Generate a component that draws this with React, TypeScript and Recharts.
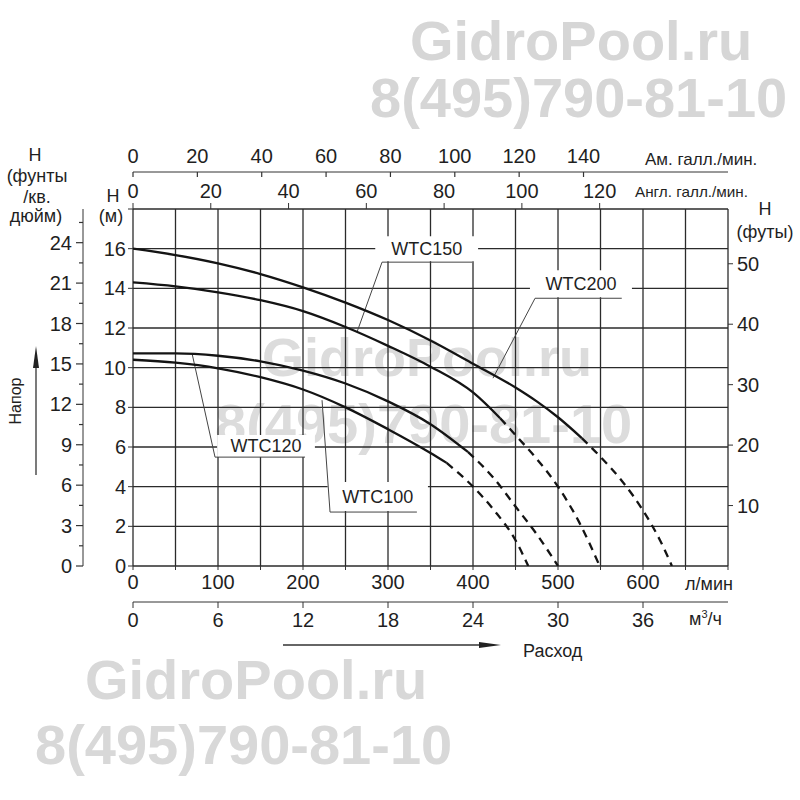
import {
  CartesianGrid,
  Line,
  LineChart,
  ReferenceArea,
  ReferenceLine,
  XAxis,
  YAxis,
} from "recharts";

// flow (l/min) and head (m); solid = working range, dashed = tail
const wtc200SolidQ = [0, 50, 100, 150, 200, 250, 300, 350, 400, 450, 475, 500, 528];
const wtc200SolidH = [16.0, 15.68, 15.26, 14.72, 14.05, 13.28, 12.4, 11.37, 10.2, 9.0, 8.3, 7.5, 6.45];
const wtc200DashQ = [528, 550, 575, 600, 620, 634];
const wtc200DashH = [6.45, 5.5, 4.3, 2.8, 1.3, 0];

const wtc150SolidQ = [0, 50, 100, 150, 200, 250, 300, 350, 400, 432];
const wtc150SolidH = [14.3, 14.1, 13.8, 13.4, 12.85, 12.05, 11.1, 10.05, 8.75, 7.45];
const wtc150DashQ = [432, 450, 475, 500, 525, 549];
const wtc150DashH = [7.45, 6.6, 5.4, 4.0, 2.2, 0];

const wtc120SolidQ = [0, 50, 100, 150, 200, 250, 300, 350, 394];
const wtc120SolidH = [10.72, 10.72, 10.6, 10.32, 9.85, 9.2, 8.3, 7.15, 5.75];
const wtc120DashQ = [394, 425, 450, 475, 500];
const wtc120DashH = [5.75, 4.4, 3.0, 1.6, 0];

const wtc100SolidQ = [0, 50, 100, 150, 200, 250, 300, 350, 369];
const wtc100SolidH = [10.4, 10.25, 9.97, 9.52, 8.9, 8.0, 6.9, 5.7, 5.2];
const wtc100DashQ = [369, 400, 425, 450, 465];
const wtc100DashH = [5.2, 4.0, 2.8, 1.3, 0];

// axis ticks and ranges
const flowTicks = [0, 50, 100, 150, 200, 250, 300, 350, 400, 450, 500, 550, 600, 650, 700];
const m3hTicks = [0, 6, 12, 18, 24, 30, 36];
const usGalTicks = [0, 20, 40, 60, 80, 100, 120, 140];
const ukGalTicks = [0, 20, 40, 60, 80, 100, 120];
const headTicks = [0, 2, 4, 6, 8, 10, 12, 14, 16, 18];
const feetTicks = [10, 20, 30, 40, 50];
const psiTicks = [0, 1.5, 3, 4.5, 6, 7.5, 9, 10.5, 12, 13.5, 15, 16.5, 18, 19.5, 21, 22.5, 24, 25.5];
const flowMax = 700;
const m3hMax = 42;
const usGalMax = 184.9;
const ukGalMax = 153;
const headMax = 18;
const psiMax = 26.5;
const feetMax = 59.06;

// curve labels: text, box corners (l/min, m), underline and leader ends
const curveLabels = [
  { name: "WTC150", q1: 285, q2: 406, h1: 15.37, h2: 16.62, u1: 293, u2: 399, uh: 15.32, tq: 263.5, th: 11.79 },
  { name: "WTC200", q1: 467, q2: 587, h1: 13.55, h2: 14.91, u1: 473, u2: 575, uh: 13.5, tq: 423.5, th: 9.47 },
  { name: "WTC120", q1: 99, q2: 214, h1: 5.49, h2: 6.6, u1: 96.5, u2: 202.4, uh: 5.49, tq: 69.4, th: 10.73 },
  { name: "WTC100", q1: 229, q2: 347, h1: 2.77, h2: 4.23, u1: 231.8, u2: 334, uh: 2.72, tq: 222.4, th: 8.36 },
];

const toPoints = (qs: number[], hs: number[]) => qs.map((q, i) => ({ q, h: hs[i] }));

const series = [
  { key: "wtc200s", data: toPoints(wtc200SolidQ, wtc200SolidH), dashed: false },
  { key: "wtc200d", data: toPoints(wtc200DashQ, wtc200DashH), dashed: true },
  { key: "wtc150s", data: toPoints(wtc150SolidQ, wtc150SolidH), dashed: false },
  { key: "wtc150d", data: toPoints(wtc150DashQ, wtc150DashH), dashed: true },
  { key: "wtc120s", data: toPoints(wtc120SolidQ, wtc120SolidH), dashed: false },
  { key: "wtc120d", data: toPoints(wtc120DashQ, wtc120DashH), dashed: true },
  { key: "wtc100s", data: toPoints(wtc100SolidQ, wtc100SolidH), dashed: false },
  { key: "wtc100d", data: toPoints(wtc100DashQ, wtc100DashH), dashed: true },
];

// invisible two-point spans so the unit-only axes get a data range
const axisSpans = [
  { id: "b_m3h", data: [{ v: 0, h: 0 }, { v: m3hMax, h: 0 }] },
  { id: "a_uk", data: [{ v: 0, h: 0 }, { v: ukGalMax, h: 0 }] },
  { id: "b_us", data: [{ v: 0, h: 0 }, { v: usGalMax, h: 0 }] },
];

const FONT = '"Liberation Sans", Arial, sans-serif';
const INK = "#1f1f1f";
const tickStyle = { fill: INK, fontSize: 20, fontFamily: FONT };

// psi ticks: long mark with a number every 3 psi, short bare mark in between
function PsiTick(props: any) {
  const { x, y, payload } = props;
  const axisX = x + 10;
  const major = payload.value % 3 === 0;
  return (
    <g>
      <line x1={axisX - (major ? 7 : 4)} y1={y} x2={axisX} y2={y} stroke="#333" strokeWidth={1.2} />
      {major && (
        <text x={x - 1} y={y} textAnchor="end" dominantBaseline="central" fill={INK} fontSize={20} fontFamily={FONT}>
          {payload.value}
        </text>
      )}
    </g>
  );
}

// US gallon ticks hang down from their own line, numbers sit above it
function UsGalTick(props: any) {
  const { x, y, payload } = props;
  const axisY = y + 9;
  return (
    <g>
      <line x1={x} y1={axisY} x2={x} y2={axisY + 5} stroke="#333" strokeWidth={1.2} />
      <text x={x} y={y} textAnchor="middle" fill={INK} fontSize={20} fontFamily={FONT}>
        {payload.value}
      </text>
    </g>
  );
}

function Watermark({ x, y, size, text, color }: { x: number; y: number; size: number; text: string; color: string }) {
  return (
    <text x={x} y={y} fontSize={size} fontWeight="bold" fill={color} fontFamily={FONT}>
      {text}
    </text>
  );
}

export default function App() {
  return (
    <div style={{ position: "absolute", left: 0, top: 0, width: 800, height: 800, background: "#fff" }}>
      <svg width={800} height={800} style={{ position: "absolute", left: 0, top: 0 }}>
        <Watermark x={410} y={60} size={56} text="GidroPool.ru" color="#d6d6d6" />
        <Watermark x={370} y={117} size={56} text="8(495)790-81-10" color="#d6d6d6" />
        <Watermark x={262} y={376} size={54} text="GidroPool.ru" color="#dcdcdc" />
        <Watermark x={215} y={443} size={56} text="8(495)790-81-10" color="#dcdcdc" />
        <Watermark x={85} y={699} size={56} text="GidroPool.ru" color="#d8d8d8" />
        <Watermark x={35} y={764} size={56} text="8(495)790-81-10" color="#d8d8d8" />

        <g fontFamily={FONT} fill={INK} fontSize={18}>
          <text x={35} y={161} textAnchor="middle">H</text>
          <text x={37} y={182} textAnchor="middle">(фунты</text>
          <text x={37} y={203} textAnchor="middle">/кв.</text>
          <text x={36} y={222} textAnchor="middle">дюйм)</text>
          <text x={113} y={202} textAnchor="middle">H</text>
          <text x={111} y={222} textAnchor="middle">(м)</text>
          <text x={765} y={215} textAnchor="middle">H</text>
          <text x={765} y={238} textAnchor="middle">(футы)</text>
          <text x={645} y={165} fontSize={17}>Ам. галл./мин.</text>
          <text x={635} y={197} fontSize={15} textLength={113} lengthAdjust="spacingAndGlyphs">Англ. галл./мин.</text>
          <text x={685} y={590}>л/мин</text>
          <text x={689} y={625}>
            м<tspan dy={-7} fontSize={11}>3</tspan>
            <tspan dy={7}>/ч</tspan>
          </text>
          <text x={523} y={657}>Расход</text>
          <text x={17} y={401} fontSize={16} textAnchor="middle" dominantBaseline="middle" transform="rotate(-90 17 401)">
            Напор
          </text>
        </g>
        <line x1={36} y1={475} x2={36} y2={360} stroke="#333" strokeWidth={1.3} />
        <polygon points="36,346 33,368 39,368" fill="#222" />
        <line x1={283} y1={645} x2={486} y2={645} stroke="#333" strokeWidth={1.3} />
        <polygon points="501,645 479,642 479,648" fill="#222" />
      </svg>

      <div style={{ position: "absolute", left: 0, top: 0 }}>
        <LineChart width={800} height={800} margin={{ top: 132, right: 12, bottom: 158, left: 33 }}>
          <CartesianGrid xAxisId="a_flow" yAxisId="a_m" stroke="#2b2b2b" strokeWidth={1.3} />

          <XAxis
            xAxisId="a_flow"
            type="number"
            dataKey="q"
            domain={[0, flowMax]}
            ticks={flowTicks}
            orientation="bottom"
            height={36}
            interval={0}
            tickFormatter={(v: number) => (v % 100 === 0 && v < flowMax ? String(v) : "")}
            tick={tickStyle}
            tickSize={4}
            tickMargin={5}
            axisLine={false}
            stroke="#333"
            allowDataOverflow
          />
          <XAxis
            xAxisId="b_m3h"
            type="number"
            dataKey="v"
            domain={[0, m3hMax]}
            ticks={m3hTicks}
            orientation="bottom"
            height={40}
            interval={0}
            tick={tickStyle}
            tickSize={6}
            tickMargin={5}
            stroke="#333"
            allowDataOverflow
          />
          <XAxis
            xAxisId="a_uk"
            type="number"
            dataKey="v"
            domain={[0, ukGalMax]}
            ticks={ukGalTicks}
            orientation="top"
            height={37}
            interval={0}
            tick={tickStyle}
            tickSize={6}
            tickMargin={5}
            axisLine={false}
            stroke="#333"
            allowDataOverflow
          />
          <XAxis
            xAxisId="b_us"
            type="number"
            dataKey="v"
            domain={[0, usGalMax]}
            ticks={usGalTicks}
            orientation="top"
            height={40}
            interval={0}
            tick={<UsGalTick />}
            tickLine={false}
            tickSize={5}
            tickMargin={4}
            stroke="#333"
            allowDataOverflow
          />

          <YAxis
            yAxisId="a_m"
            type="number"
            domain={[0, headMax]}
            ticks={headTicks}
            width={50}
            interval={0}
            tickFormatter={(v: number) => (v < headMax ? String(v) : "")}
            tick={tickStyle}
            tickSize={5}
            tickMargin={2}
            axisLine={false}
            stroke="#333"
            allowDataOverflow
          />
          <YAxis
            yAxisId="b_psi"
            type="number"
            domain={[0, psiMax]}
            ticks={psiTicks}
            width={50}
            interval={0}
            tick={<PsiTick />}
            tickLine={false}
            tickSize={6}
            tickMargin={4}
            stroke="#333"
            allowDataOverflow
          />
          <YAxis
            yAxisId="c_ft"
            orientation="right"
            type="number"
            domain={[0, feetMax]}
            ticks={feetTicks}
            width={60}
            interval={0}
            tick={tickStyle}
            tickSize={5}
            tickMargin={4}
            axisLine={false}
            stroke="#333"
            allowDataOverflow
          />

          {curveLabels.map((l) => (
            <ReferenceArea
              key={l.name + "-box"}
              xAxisId="a_flow"
              yAxisId="a_m"
              x1={l.q1}
              x2={l.q2}
              y1={l.h1}
              y2={l.h2}
              fill="#fff"
              fillOpacity={1}
              stroke="none"
              label={{ value: l.name, position: "center", fill: INK, fontSize: 18, fontFamily: FONT }}
            />
          ))}
          {curveLabels.map((l) => (
            <ReferenceLine
              key={l.name + "-under"}
              xAxisId="a_flow"
              yAxisId="a_m"
              segment={[
                { x: l.u1, y: l.uh },
                { x: l.u2, y: l.uh },
              ]}
              stroke="#444"
              strokeWidth={1}
            />
          ))}
          {curveLabels.map((l) => (
            <ReferenceLine
              key={l.name + "-lead"}
              xAxisId="a_flow"
              yAxisId="a_m"
              segment={[
                { x: l.u1, y: l.uh },
                { x: l.tq, y: l.th },
              ]}
              stroke="#444"
              strokeWidth={1}
            />
          ))}

          {axisSpans.map((s) => (
            <Line
              key={s.id}
              xAxisId={s.id}
              yAxisId="a_m"
              data={s.data}
              dataKey="h"
              stroke="none"
              strokeOpacity={0}
              dot={false}
              activeDot={false}
              legendType="none"
              isAnimationActive={false}
            />
          ))}

          {series.map((s) => (
            <Line
              key={s.key}
              xAxisId="a_flow"
              yAxisId="a_m"
              data={s.data}
              dataKey="h"
              type="monotone"
              stroke="#141414"
              strokeWidth={2.3}
              strokeDasharray={s.dashed ? "8 6" : undefined}
              dot={false}
              activeDot={false}
              isAnimationActive={false}
            />
          ))}
        </LineChart>
      </div>
    </div>
  );
}
